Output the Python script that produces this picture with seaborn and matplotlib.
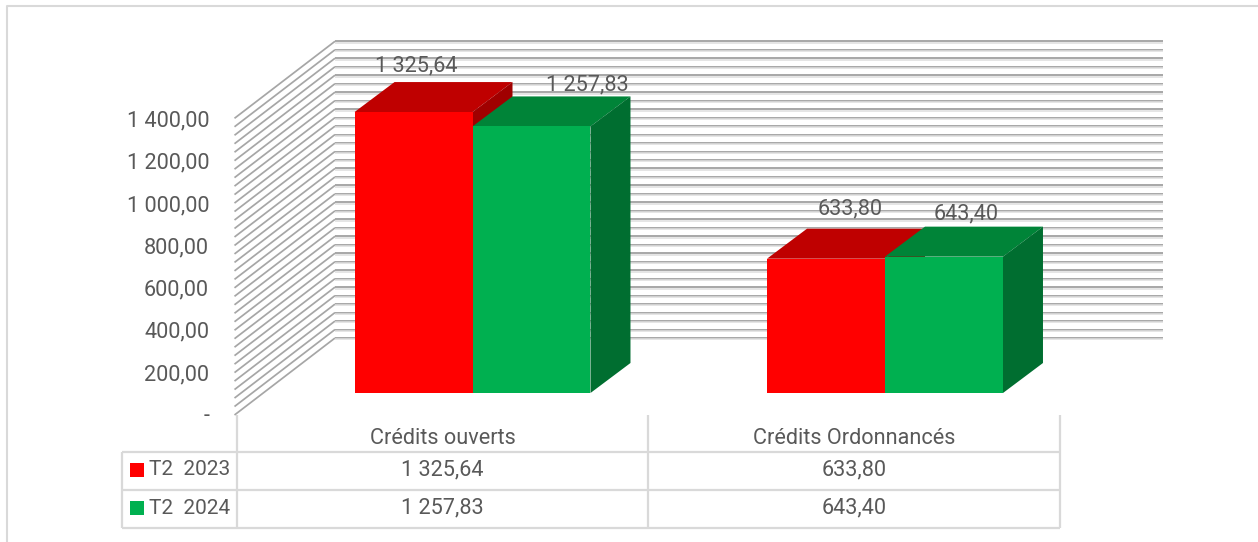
import matplotlib
matplotlib.use("Agg")
import pandas as pd
import seaborn as sns
from matplotlib import pyplot as plt
from matplotlib.lines import Line2D
from matplotlib.patches import Polygon
from matplotlib.transforms import IdentityTransform

categories = ["Crédits ouverts", "Crédits Ordonnancés"]
series_names = ["T2  2023", "T2  2024"]
values_2023 = [1325.64, 633.80]
values_2024 = [1257.83, 643.40]
y_ticks = [0, 200, 400, 600, 800, 1000, 1200, 1400]
grid_values = list(range(0, 1401, 40))

face_colors = ["#FF0000", "#00B050"]
top_colors = ["#BF0000", "#008438"]
side_colors = ["#A00000", "#006E30"]
text_color = "#595959"
table_color = "#D9D9D9"
label_offsets = [[(3, 46), (24, 50)], [(56, 41), (22, 43)]]

W, H = 1258, 542
DEPTH = (40, 30)
FONT_SIZE = 15.6


def fmt(v):
    if v == 0:
        return "-"
    return f"{v:,.2f}".replace(",", " ").replace(".", ",")


def axes_rect(left, top, right, bottom):
    return [left / W, 1 - bottom / H, (right - left) / W, (bottom - top) / H]


def pixel_line(ax, xs, ys, color, lw, z=1):
    ax.add_line(Line2D(xs, ys, color=color, lw=lw, zorder=z, clip_on=False,
                       transform=IdentityTransform(), solid_capstyle="butt"))


def main():
    sns.set_theme(style="white")
    plt.rcParams["font.family"] = ["Roboto", "DejaVu Sans"]

    df = pd.DataFrame({
        "poste": categories * 2,
        "periode": [series_names[0]] * 2 + [series_names[1]] * 2,
        "montant": values_2023 + values_2024,
    })

    fig = plt.figure(figsize=(W / 100, H / 100), dpi=100, facecolor="white")

    # front plane holds the ticks and the data table, bar plane sits behind it
    front = fig.add_axes(axes_rect(236.8, 118.5, 1059.8, 414.5))
    ax = fig.add_axes(axes_rect(266.25, 96.3, 1091.25, 393))
    ax.patch.set_visible(False)
    front.patch.set_visible(False)

    sns.barplot(data=df, x="poste", y="montant", hue="periode", palette=face_colors,
                width=0.572, gap=0, saturation=1, legend=False, ax=ax)
    ax.set_xlim(-0.5, 1.5)
    ax.set_ylim(0, 1400)
    ax.axis("off")

    front.set_xlim(-0.5, 1.5)
    front.set_ylim(0, 1400)
    front.set_yticks(y_ticks)
    front.set_yticklabels([fmt(v) for v in y_ticks], fontsize=FONT_SIZE, color=text_color)
    front.set_xticks(range(len(categories)))
    front.set_xticklabels(categories, fontsize=FONT_SIZE, color=text_color)
    front.tick_params(axis="y", length=0, pad=20)
    front.tick_params(axis="x", length=0, pad=9.5)
    front.grid(False)
    for spine in front.spines.values():
        spine.set_visible(False)

    # walls, every 40 units
    for v in grid_values:
        _, y = ax.transData.transform((0, v))
        pixel_line(ax, [234.5, 335], [y - 22, y + 55], "#A6A6A6", 1.25)
        pixel_line(ax, [335, 1163], [y + 55, y + 55], "#A0A0A0", 1.3)
        pixel_line(ax, [335, 1163], [y + 53.6, y + 53.6], "#DEDEDE", 1.1)

    # extruded bars built on the patches seaborn drew
    for i, container in enumerate(ax.containers):
        for j, bar in enumerate(container):
            (x0, y0), (x1, y1) = ax.transData.transform(
                [(bar.get_x(), 0), (bar.get_x() + bar.get_width(), bar.get_height())])
            dx, dy = DEPTH
            z = 2 + 2 * i
            ax.add_patch(Polygon([(x0, y1), (x1, y1), (x1 + dx, y1 + dy), (x0 + dx, y1 + dy)],
                                 fc=top_colors[i], lw=0, zorder=z, clip_on=False,
                                 transform=IdentityTransform()))
            ax.add_patch(Polygon([(x1, y0), (x1 + dx, y0 + dy), (x1 + dx, y1 + dy), (x1, y1)],
                                 fc=side_colors[i], lw=0, zorder=z, clip_on=False,
                                 transform=IdentityTransform()))
            bar.set_zorder(z + 1)
            bar.set_linewidth(0)
            ax.annotate(fmt(bar.get_height()), (bar.get_x() + bar.get_width() / 2, bar.get_height()),
                        xytext=label_offsets[i][j], textcoords="offset pixels", ha="center", va="center",
                        fontsize=FONT_SIZE, color=text_color, zorder=8, annotation_clip=False)

    # data table
    col_x = [front.transData.transform((c, 0))[0] for c in (-0.5, 0.5, 1.5)]
    rows_y = [H - 451.5, H - 490, H - 528]
    for y in rows_y:
        pixel_line(front, [122, col_x[-1]], [y, y], table_color, 1.6)
    pixel_line(front, [122, 122], [rows_y[0], rows_y[-1]], table_color, 1.6)
    for x in col_x:
        pixel_line(front, [x, x], [H - 415, rows_y[-1]], table_color, 1.6)

    row_centers = [H - 469.5, H - 508]
    for name, vals, color, yc in zip(series_names, [values_2023, values_2024], face_colors, row_centers):
        front.add_patch(Polygon([(130, yc - 7), (144, yc - 7), (144, yc + 7), (130, yc + 7)],
                                fc=color, lw=0, clip_on=False, transform=IdentityTransform()))
        front.text(149, yc, name, fontsize=15, color=text_color, va="center", ha="left",
                   transform=IdentityTransform())
        for c, v in enumerate(vals):
            x = front.transData.transform((c, 0))[0]
            front.text(x, yc, fmt(v), fontsize=FONT_SIZE, color=text_color, va="center", ha="center",
                       transform=IdentityTransform())

    # chart area border, cut by the screenshot
    fig.add_artist(Line2D([7 / W, 7 / W, 1], [0, 1 - 6 / H, 1 - 6 / H], color=table_color, lw=1.5))

    fig.savefig("out.png", dpi=100)


if __name__ == "__main__":
    main()
